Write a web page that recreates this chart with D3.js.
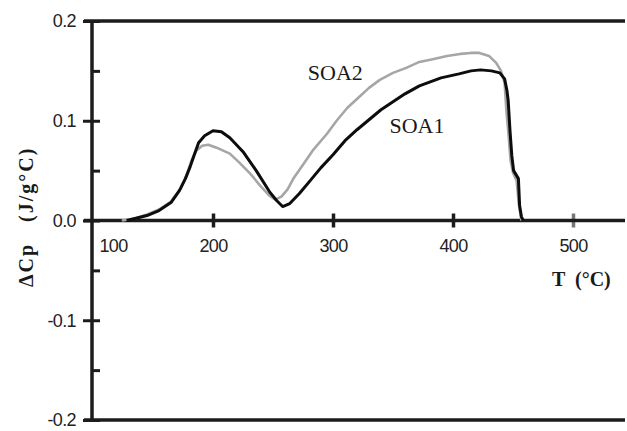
<!DOCTYPE html>
<html>
<head>
<meta charset="utf-8">
<script src="https://cdn.jsdelivr.net/npm/d3@7"></script>
<style>
  body { margin: 0; background: #fff; }
  svg { display: block; }
</style>
</head>
<body>
<svg width="627" height="431"></svg>
<script>
const width = 627;
const height = 431;

// SOA1 (black) and SOA2 (grey)
const soa1T = [128,135,145,155,165,172,177,181,185,188,193,200,207,214,225,236,247,253,258,264,272,281,290,300,310,320,330,340,350,360,372,381,390,405,415,423,432,439,443,445,446,447.5,449,450.5,452.5,454.5,455.5,457,458.5];
const soa1V = [0,0.002,0.005,0.010,0.018,0.030,0.042,0.054,0.068,0.078,0.085,0.090,0.089,0.083,0.069,0.050,0.029,0.020,0.014,0.017,0.027,0.040,0.053,0.066,0.080,0.091,0.101,0.111,0.119,0.127,0.135,0.139,0.143,0.147,0.150,0.151,0.150,0.148,0.142,0.130,0.120,0.090,0.065,0.050,0.046,0.042,0.015,0.004,0];
const soa2T = [124,135,145,155,165,173,178,182,186,191,196,203,214,222,231,240,247,252,257,262,267,275,283,295,303,312,322,330,339,350,361,372,384,395,406,415,422,430,436,440,443,444.5,446,448,450,453,455,457];
const soa2V = [0,0.002,0.006,0.011,0.019,0.032,0.045,0.060,0.070,0.075,0.076,0.073,0.067,0.058,0.047,0.034,0.025,0.021,0.024,0.031,0.042,0.056,0.070,0.087,0.100,0.113,0.124,0.133,0.141,0.148,0.153,0.159,0.162,0.165,0.167,0.168,0.168,0.165,0.158,0.150,0.138,0.110,0.090,0.060,0.048,0.040,0.015,0];

const xMajor = [100,200,300,400,500];
const yMajor = [-0.2,-0.1,0,0.1,0.2];
const yMinor = [-0.15,-0.05,0.05,0.15];

const x = d3.scaleLinear().domain([100, 545]).range([93, 627]);
const y = d3.scaleLinear().domain([-0.2, 0.2]).range([420, 21]);

const svg = d3.select('svg');
const ink = '#1c1c1c';

// frame lines: y axis, top, bottom, zero line
const frame = svg.append('g').attr('stroke', ink).attr('stroke-width', 3.5);
frame.append('line').attr('x1', x(100) - 1).attr('x2', x(100) - 1).attr('y1', y(0.2)).attr('y2', y(-0.2) + 1);
[0.2, 0, -0.2].forEach(v => {
    frame.append('line').attr('x1', x(100) - 9).attr('x2', x.range()[1] - 2)
        .attr('y1', y(v)).attr('y2', y(v));
});

// y axis ticks + labels
const yAxis = d3.axisLeft(y).tickValues(yMajor).tickSize(9).tickPadding(7)
    .tickFormat(d => d.toFixed(1));
const yAxis_g = svg.append('g').attr('transform', 'translate(' + (x(100) - 1) + ',0)').call(yAxis);
yAxis_g.select('.domain').remove();
yAxis_g.selectAll('.tick line').attr('x2', -9).attr('x1', 8).attr('stroke', ink).attr('stroke-width', 3);
yAxis_g.selectAll('.tick text')
    .style('font-family', '"Liberation Sans", Arial, sans-serif')
    .style('font-size', '18px').style('letter-spacing', '-0.6px').attr('fill', '#222');

const yMinor_g = svg.append('g').attr('transform', 'translate(' + (x(100) - 1) + ',0)')
    .call(d3.axisRight(y).tickValues(yMinor).tickSize(8).tickFormat(''));
yMinor_g.select('.domain').remove();
yMinor_g.selectAll('.tick line').attr('stroke', ink).attr('stroke-width', 3);

// x axis ticks + labels on zero line
const xAxis = d3.axisBottom(x).tickValues(xMajor).tickSize(7).tickFormat(d3.format('d'));
const xAxis_g = svg.append('g').attr('transform', 'translate(0,' + y(0) + ')').call(xAxis);
xAxis_g.select('.domain').remove();
xAxis_g.selectAll('.tick line').attr('y1', -7).attr('y2', 7).attr('stroke', ink).attr('stroke-width', 3.5)
    .attr('opacity', d => d === 100 ? 0 : (d === 500 ? 0.6 : 1));
xAxis_g.selectAll('.tick text')
    .attr('y', 31).attr('dy', 0)
    .attr('x', d => d === 100 ? 20 : 0)
    .style('font-family', '"Liberation Sans", Arial, sans-serif')
    .style('font-size', '18px').style('letter-spacing', '-0.6px').attr('fill', '#222');

// curves
const line = d3.line().x(d => x(d[0])).y(d => y(d[1]));
const soa2 = soa2T.map((t, i) => [t, soa2V[i]]);
const soa1 = soa1T.map((t, i) => [t, soa1V[i]]);

svg.append('path').datum(soa2).attr('d', line)
    .attr('fill', 'none').attr('stroke', '#a6a6a6').attr('stroke-width', 2.6).attr('stroke-linejoin', 'round');
svg.append('path').datum(soa1).attr('d', line)
    .attr('fill', 'none').attr('stroke', '#0d0d0d').attr('stroke-width', 3).attr('stroke-linejoin', 'round');

// series labels
const serif = '"Liberation Serif", "Times New Roman", serif';
svg.append('text').attr('x', x(279)).attr('y', y(0.141))
    .style('font-family', serif).style('font-size', '22px').attr('fill', '#1a1a1a').text('SOA2');
svg.append('text').attr('x', x(347)).attr('y', y(0.088))
    .style('font-family', serif).style('font-size', '22px').attr('fill', '#1a1a1a').text('SOA1');

// axis titles
svg.append('text').attr('x', 552).attr('y', 286)
    .style('font-family', serif).style('font-size', '20px').style('font-weight', 'bold')
    .attr('fill', '#1a1a1a').attr('xml:space', 'preserve').text('T  (°C)');

svg.append('text').attr('transform', 'translate(33,287) rotate(-90)')
    .style('font-family', serif).style('font-size', '20px').style('font-weight', 'bold')
    .style('letter-spacing', '2px')
    .attr('fill', '#1a1a1a').attr('xml:space', 'preserve').text('ΔCp   (J/g°C)');
</script>
</body>
</html>
